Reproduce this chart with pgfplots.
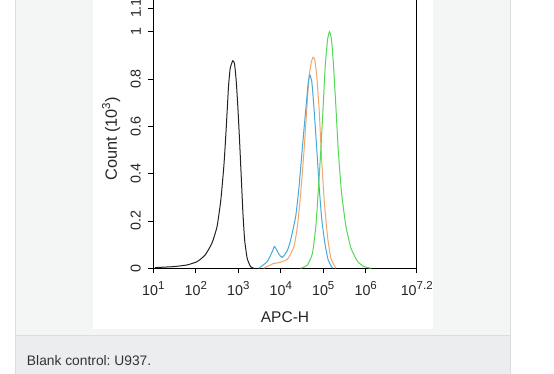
\documentclass[border=0pt]{standalone}
\usepackage{pgfplots}
\pgfplotsset{compat=1.18}
\usepackage{fontspec}
\setmainfont{Liberation Sans}
\frenchspacing
\newcommand\sps[1]{\raisebox{0.42em}{\fontsize{11.5}{12}\selectfont#1}}
\newcommand\tkf{\fontsize{14.3}{16}\selectfont}
\definecolor{panelbg}{HTML}{F4F5F5}
\definecolor{capbg}{HTML}{ECEDEE}
\definecolor{panelbd}{HTML}{DCDDDD}
\definecolor{cblue}{HTML}{45AAD8}
\definecolor{corange}{HTML}{F2A66E}
\definecolor{cgreen}{HTML}{55D855}
\definecolor{cblack}{HTML}{222222}
\begin{document}
\begin{tikzpicture}[x=1pt,y=1pt]
\useasboundingbox (0,0) rectangle (554,374);
\fill[white] (0,0) rectangle (554,374);
\fill[panelbg] (15,39) rectangle (511,380);
\fill[capbg] (15,0) rectangle (511,39);
\draw[panelbd,line width=0.8pt] (15.4,380) -- (15.4,0);
\draw[panelbd,line width=0.8pt] (510.6,380) -- (510.6,0);
\draw[panelbd,line width=0.8pt] (15,39) -- (511,39);
\fill[white] (92.7,45) rectangle (432.7,380);
\node[anchor=base west,text=black!80,inner sep=0pt,font=\fontsize{13.8}{15}\selectfont] at (26.8,8.5) {Blank control: U937.};
\begin{axis}[
  at={(153.3pt,105.7pt)}, anchor=south west,
  scale only axis, width=263.4pt, height=272.1pt,
  xmode=log, xmin=10, xmax=15848932,
  ymin=0, ymax=1.15,
  axis line style={black, line width=0.9pt},
  axis x line*=bottom, axis y line*=left,
  clip=true,
  tick align=outside,
  major tick length=5pt, minor tick length=3pt,
  every tick/.style={black, line width=0.8pt},
  minor tick style={line width=0.6pt},
  xtick={10,100,1000,10000,100000,1000000,15848932},
  xticklabels={10\sps{1},10\sps{2},10\sps{3},10\sps{4},10\sps{5},10\sps{6},10\sps{7.2}},
  ytick={0,0.2,0.4,0.6,0.8,1.0,1.1},
  yticklabels={0,0.2,0.4,0.6,0.8,1,1.1},
  minor y tick num=3,
  /pgf/number format/assume math mode=true,
  tick label style={font=\tkf, text=black!85},
  yticklabel style={rotate=90, anchor=south},
  yticklabel shift=4pt,
  xticklabel shift=4.5pt,
  xlabel={APC-H}, ylabel={Count (10\sps{3})},
  label style={font=\fontsize{15.5}{17}\selectfont, text=black!85},
  xlabel style={at={(axis description cs:0.5,-0.179)}, anchor=center},
  ylabel style={at={(axis description cs:-0.16,0.475)}, anchor=center, rotate=0, font=\fontsize{16.3}{18}\selectfont},
]
\addplot[draw=cblack, line width=1pt, smooth, tension=0.3] coordinates {
(10^1.04,0.003) (10^1.47,0.007) (10^1.79,0.014) (10^2.03,0.028) (10^2.22,0.056)
(10^2.38,0.106) (10^2.50,0.176) (10^2.59,0.289) (10^2.66,0.430) (10^2.70,0.542)
(10^2.74,0.669) (10^2.77,0.768) (10^2.81,0.845) (10^2.87,0.877) (10^2.91,0.866)
(10^2.95,0.796) (10^2.99,0.683) (10^3.03,0.542) (10^3.07,0.387) (10^3.11,0.232)
(10^3.15,0.120) (10^3.21,0.042) (10^3.29,0.007) (10^3.37,0.0)
};
\addplot[draw=corange, line width=1pt, smooth, tension=0.3] coordinates {
(10^3.60,0.0) (10^3.839,0.021) (10^3.918,0.022) (10^4.155,0.038) (10^4.312,0.092)
(10^4.391,0.176) (10^4.47,0.317) (10^4.549,0.50) (10^4.612,0.67) (10^4.667,0.81)
(10^4.722,0.873) (10^4.762,0.892) (10^4.801,0.88) (10^4.849,0.81) (10^4.904,0.67)
(10^4.959,0.472) (10^5.022,0.289) (10^5.101,0.134) (10^5.18,0.042) (10^5.298,0.0)
};
\addplot[draw=cblue, line width=1pt, smooth, tension=0.3] coordinates {
(10^3.484,0.0) (10^3.68,0.028) (10^3.80,0.07) (10^3.855,0.092) (10^3.957,0.06)
(10^4.036,0.046) (10^4.155,0.075) (10^4.233,0.12) (10^4.352,0.22) (10^4.431,0.345)
(10^4.509,0.51) (10^4.588,0.67) (10^4.644,0.78) (10^4.683,0.817) (10^4.730,0.79)
(10^4.785,0.67) (10^4.849,0.50) (10^4.904,0.345) (10^4.967,0.204) (10^5.038,0.106)
(10^5.117,0.035) (10^5.219,0.0)
};
\addplot[draw=cgreen, line width=1pt, smooth, tension=0.3] coordinates {
(10^4.47,0.0) (10^4.628,0.014) (10^4.746,0.063) (10^4.825,0.176) (10^4.88,0.317)
(10^4.943,0.50) (10^4.998,0.683) (10^5.046,0.852) (10^5.101,0.965) (10^5.148,1.0)
(10^5.196,0.965) (10^5.243,0.852) (10^5.298,0.683) (10^5.353,0.50) (10^5.432,0.317)
(10^5.535,0.176) (10^5.653,0.085) (10^5.811,0.028) (10^5.968,0.007) (10^6.126,0.0)
};
\end{axis}
\draw[black, line width=0.9pt] (416.7,105.7) -- (416.7,380);
\end{tikzpicture}
\end{document}
